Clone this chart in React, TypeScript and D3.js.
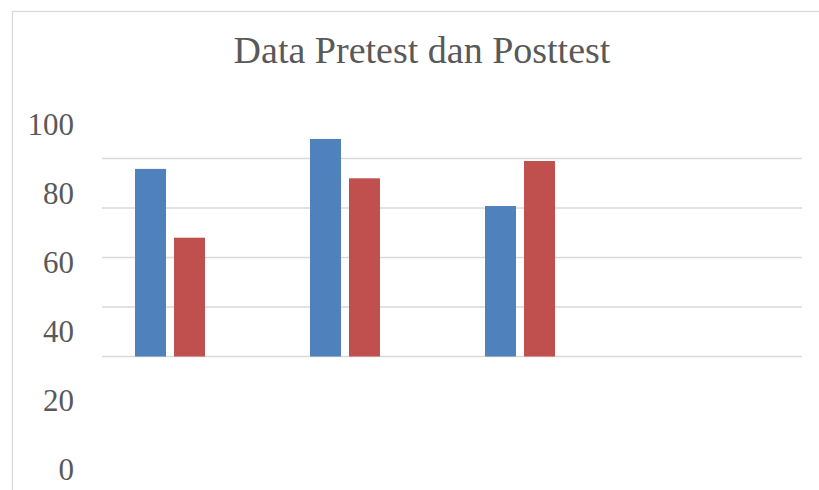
import React from 'react';
import * as d3 from 'd3';

// Chart data
const categories = ['1', '2', '3', '4'];
const seriesNames = ['Pretest', 'Posttest', 'Series3'];
const pretest = [75.8, 87.9, 60.8, null];
const posttest = [48, 72, 79, null];
const series3 = [null, null, null, null];
const gridValues = [0, 20, 40, 60, 80];
const tickLabels = [0, 20, 40, 60, 80, 100];

const seriesValues = [pretest, posttest, series3];
const seriesColors = ['#4f81bd', '#c0504d', '#9bbb59'];

const W = 819;
const H = 490;

export default function App() {
  const plot = { left: 102, right: 802, top: 109, bottom: 356.5 };

  const x0 = d3.scaleBand<string>()
    .domain(categories)
    .range([plot.left, plot.right])
    .padding(0);

  const x1 = d3.scaleBand<string>()
    .domain(seriesNames)
    .range([0, x0.bandwidth()])
    .paddingInner(0.205)
    .paddingOuter(0.846);

  const y = d3.scaleLinear().domain([0, 100]).range([plot.bottom, plot.top]);

  // the axis labels in the source sit on their own, wider spacing
  const yLabel = d3.scaleLinear().domain([0, 100]).range([480, 135]);

  return (
    <svg
      width={W}
      height={H}
      style={{ position: 'absolute', left: 0, top: 0, background: '#fff' }}
    >
      <rect x={12.5} y={11.5} width={840} height={500} fill="#fff" stroke="#d9d9d9" strokeWidth={1.3} />

      <text
        x={422}
        y={63}
        textAnchor="middle"
        fontFamily="'Liberation Serif', 'Times New Roman', serif"
        fontSize={38}
        fill="#595959"
      >
        Data Pretest dan Posttest
      </text>

      {/* gridlines */}
      <g>
        {gridValues.map(v => (
          <line
            key={v}
            x1={plot.left}
            x2={plot.right}
            y1={y(v)}
            y2={y(v)}
            stroke="#d9d9d9"
            strokeWidth={1.4}
          />
        ))}
      </g>

      {/* bars */}
      <g>
        {categories.map((c, ci) =>
          seriesNames.map((s, si) => {
            const v = seriesValues[si][ci];
            if (v == null) return null;
            return (
              <rect
                key={c + s}
                x={(x0(c) ?? 0) + (x1(s) ?? 0)}
                y={y(v)}
                width={x1.bandwidth()}
                height={y(0) - y(v)}
                fill={seriesColors[si]}
              />
            );
          })
        )}
      </g>

      {/* y tick labels */}
      <g>
        {tickLabels.map(v => (
          <text
            key={v}
            x={74}
            y={yLabel(v)}
            textAnchor="end"
            fontFamily="'Liberation Serif', 'Times New Roman', serif"
            fontSize={31}
            fill="#595959"
          >
            {v}
          </text>
        ))}
      </g>
    </svg>
  );
}
